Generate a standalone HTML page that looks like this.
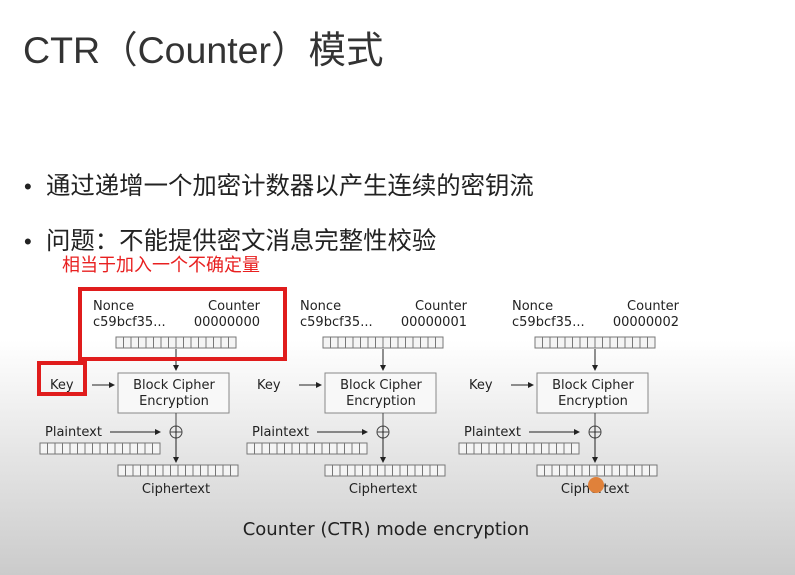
<!DOCTYPE html>
<html><head><meta charset="utf-8"><style>
html,body{margin:0;padding:0}
body{width:795px;height:575px;overflow:hidden;background:linear-gradient(to bottom,#fff 0px,#fff 340px,#e6e6e6 450px,#cbcbcb 575px);}
svg{position:absolute;left:0;top:0}
</style></head><body>
<svg width="795" height="575" xmlns="http://www.w3.org/2000/svg">
<defs>
<g id="reg" fill="none" stroke="#777" stroke-width="1">
<rect x="0" y="0" width="120" height="11" fill="#f4f4f4"/>
<path d="M7.5 0v11M15 0v11M22.5 0v11M30 0v11M37.5 0v11M45 0v11M52.5 0v11M60 0v11M67.5 0v11M75 0v11M82.5 0v11M90 0v11M97.5 0v11M105 0v11M112.5 0v11"/>
</g>
<marker id="ar" markerWidth="6" markerHeight="6" refX="5" refY="3" orient="auto"><path d="M0,0L6,3L0,6z" fill="#222"/></marker>
<g id="col" font-family="'DejaVu Sans','Liberation Sans',sans-serif" font-size="13" fill="#222">
<text x="93" y="310">Nonce</text>
<text x="260" y="310" text-anchor="end">Counter</text>
<use href="#reg" x="116" y="337"/>
<line x1="176" y1="349" x2="176" y2="370" stroke="#222" marker-end="url(#ar)"/>
<text x="50" y="389">Key</text>
<line x1="92" y1="385" x2="114" y2="385" stroke="#222" marker-end="url(#ar)"/>
<rect x="118" y="373" width="111" height="40" fill="#f8f8f8" stroke="#888"/>
<text x="174" y="389" text-anchor="middle">Block Cipher</text>
<text x="174" y="405" text-anchor="middle">Encryption</text>
<line x1="176" y1="413" x2="176" y2="426" stroke="#444"/>
<circle cx="176" cy="432" r="6" fill="none" stroke="#444"/>
<line x1="170" y1="432" x2="182" y2="432" stroke="#444"/>
<line x1="176" y1="426" x2="176" y2="462" stroke="#222" marker-end="url(#ar)"/>
<text x="45" y="436">Plaintext</text>
<line x1="110" y1="432" x2="160" y2="432" stroke="#222" marker-end="url(#ar)"/>
<use href="#reg" x="40" y="443"/>
<use href="#reg" x="118" y="465"/>
<text x="176" y="493" text-anchor="middle">Ciphertext</text>
</g>
</defs>
<g font-family="'DejaVu Sans','Liberation Sans',sans-serif" font-size="13" fill="#222">
<use href="#col"/>
<text x="93" y="326">c59bcf35...</text><text x="260" y="326" text-anchor="end">00000000</text>
<use href="#col" x="207"/>
<text x="300" y="326">c59bcf35...</text><text x="467" y="326" text-anchor="end">00000001</text>
<use href="#col" x="419"/>
<text x="512" y="326">c59bcf35...</text><text x="679" y="326" text-anchor="end">00000002</text>
<text x="386" y="535" text-anchor="middle" font-size="18">Counter (CTR) mode encryption</text>
</g>
<rect x="80" y="289" width="205" height="70" fill="none" stroke="#e01c1c" stroke-width="4"/>
<rect x="39" y="363" width="46" height="31" fill="none" stroke="#e01c1c" stroke-width="4"/>
<circle cx="596" cy="485" r="8" fill="#e0813a"/>
<text x="23" y="63" font-family="'Liberation Sans','Noto Sans CJK SC',sans-serif" font-size="37.5" fill="#333">CTR（Counter）模式</text>
<g font-family="'Liberation Sans','Noto Sans CJK SC',sans-serif" font-size="24.4" fill="#222">
<text x="24" y="194" font-size="22">•</text><text x="46" y="194">通过递增一个加密计数器以产生连续的密钥流</text>
<text x="24" y="249" font-size="22">•</text><text x="46" y="249">问题：不能提供密文消息完整性校验</text>
</g>
<text x="62" y="271" font-family="'Liberation Sans','Noto Sans CJK SC',sans-serif" font-size="18" fill="#e82020">相当于加入一个不确定量</text>
</svg>
</body></html>
